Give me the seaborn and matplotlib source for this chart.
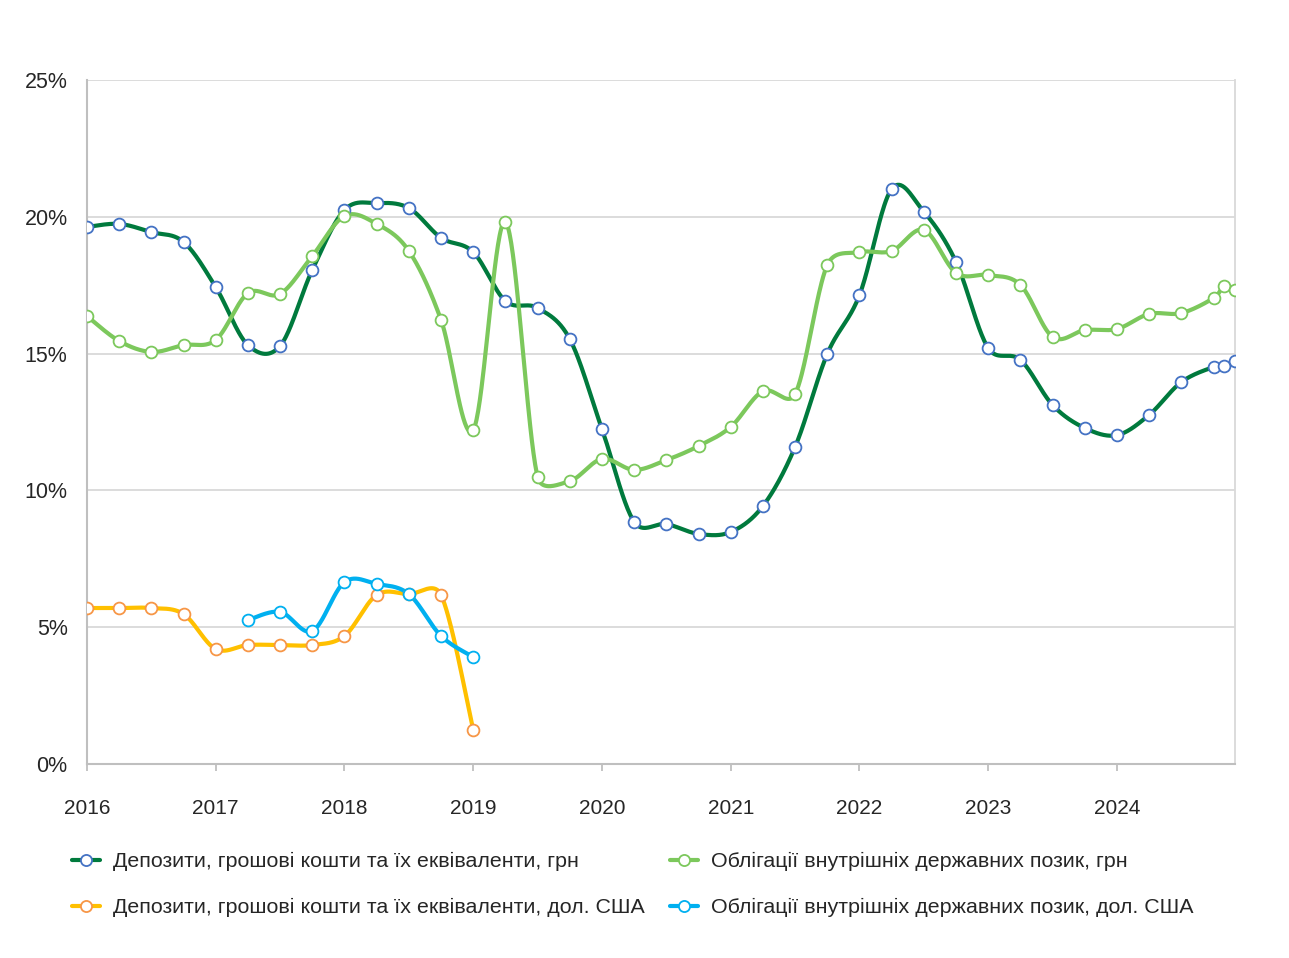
import numpy as np
import pandas as pd
import matplotlib
matplotlib.use("agg")
import matplotlib.pyplot as plt
import seaborn as sns

# quarter starts 2016Q1..2024Q4, then monthly Nov and Dec 2024
dates = list(pd.date_range("2016-01-01", "2024-10-01", freq="QS")) + [
    pd.Timestamp("2024-11-01"), pd.Timestamp("2024-12-01")]

dep_uah = [19.63, 19.74, 19.44, 19.08, 17.43, 15.31, 15.28, 18.06,
           20.25, 20.50, 20.32, 19.23, 18.71, 16.92, 16.67, 15.53,
           12.24, 8.85, 8.77, 8.41, 8.48, 9.43, 11.59, 14.99,
           17.14, 21.02, 20.18, 18.35, 15.20, 14.77, 13.12, 12.28,
           12.02, 12.76, 13.96, 14.51, 14.55, 14.73]

ovdp_uah = [16.37, 15.46, 15.06, 15.31, 15.50, 17.21, 17.18, 18.57,
            20.03, 19.74, 18.75, 16.23, 12.21, 19.81, 10.49, 10.34,
            11.15, 10.75, 11.11, 11.62, 12.32, 13.63, 13.52, 18.24,
            18.71, 18.75, 19.52, 17.95, 17.87, 17.51, 15.61, 15.86,
            15.90, 16.45, 16.48, 17.03, 17.47, 17.32]

# USD series: 2016Q1..2019Q1
dep_usd = [5.70, 5.70, 5.70, 5.48, 4.20, 4.35, 4.35, 4.35,
           4.68, 6.18, 6.21, 6.18, 1.24]
# starts 2017Q2
ovdp_usd = [5.26, 5.56, 4.86, 6.65, 6.58, 6.21, 4.68, 3.91]

labels = [
    "Депозити, грошові кошти та їх еквіваленти, грн",
    "Облігації внутрішніх державних позик, грн",
    "Депозити, грошові кошти та їх еквіваленти, дол. США",
    "Облігації внутрішніх державних позик, дол. США",
]
line_colors = ["#007A3D", "#7CC85C", "#FFC000", "#00B0F0"]
edge_colors = ["#4472C4", "#7CC85C", "#F79646", "#00B0F0"]

# rough pixel scale of the plot, used only for the smoothing distances
PX_X, PX_Y = 128.75, 27.36


def frac_year(ts):
    return ts.year + (ts.month - 1) / 12


def smooth(x, y, n=40):
    # excel-like bezier smoothing: tangent 1/6, capped at half the segment
    x = np.asarray(x, float)
    y = np.asarray(y, float)
    X, Y = x * PX_X, y * PX_Y
    dist = lambda a, b: np.hypot(X[a] - X[b], Y[a] - Y[b])
    px, py = [], []
    for i in range(len(x) - 1):
        i0 = max(i - 1, 0)
        i3 = min(i + 2, len(x) - 1)
        d12 = dist(i, i + 1)
        d02 = dist(i0, i + 1)
        d13 = dist(i, i3)
        f1 = 1 / 6 if d02 / 6 < d12 / 2 else d12 / (2 * d02)
        f2 = 1 / 6 if d13 / 6 < d12 / 2 else d12 / (2 * d13)
        c1x = x[i] + (x[i + 1] - x[i0]) * f1
        c1y = y[i] + (y[i + 1] - y[i0]) * f1
        c2x = x[i + 1] - (x[i3] - x[i]) * f2
        c2y = y[i + 1] - (y[i3] - y[i]) * f2
        t = np.linspace(0, 1, n)
        a, b, c, d = (1 - t) ** 3, 3 * (1 - t) ** 2 * t, 3 * (1 - t) * t ** 2, t ** 3
        px.extend(a * x[i] + b * c1x + c * c2x + d * x[i + 1])
        py.extend(a * y[i] + b * c1y + c * c2y + d * y[i + 1])
    return np.array(px), np.array(py)


xs = [frac_year(d) for d in dates]
series = [
    (xs, dep_uah),
    (xs, ovdp_uah),
    (xs[:len(dep_usd)], dep_usd),
    (xs[5:5 + len(ovdp_usd)], ovdp_usd),
]

sns.set_style("white")
plt.rcParams["font.family"] = ["Liberation Sans", "DejaVu Sans"]

fig = plt.figure(figsize=(12.89, 9.58), dpi=100)
ax = fig.add_axes([87 / 1289, 1 - 764 / 958, (1235 - 87) / 1289, (764 - 80) / 958])

for (x, y), lc, ec, lab in zip(series, line_colors, edge_colors, labels):
    sx, sy = smooth(x, y)
    sdf = pd.DataFrame({"x": sx, "y": sy})
    sns.lineplot(data=sdf, x="x", y="y", sort=False, color=lc, lw=3.0, ax=ax,
                 legend=False, zorder=3)
    ax.plot(x, y, ls="none", marker="o", ms=8.5, mfc="white", mec=ec,
            mew=1.3, zorder=4)
    ax.plot([], [], color=lc, lw=3.0, marker="o", ms=8.0, mfc="white",
            mec=ec, mew=1.3, label=lab)

ax.set_xlim(2016, 2024 + 11 / 12)
ax.set_ylim(0, 25)
ax.set_xticks(range(2016, 2025))
ax.set_xticklabels([str(y) for y in range(2016, 2025)])
ax.set_yticks(range(0, 26, 5))
ax.set_yticklabels([f"{v}%" for v in range(0, 26, 5)])
ax.set_xlabel("")
ax.set_ylabel("")
ax.grid(axis="y", color="#D9D9D9", lw=1.3)
ax.set_axisbelow(True)
ax.tick_params(axis="x", length=5, width=1.3, color="#BFBFBF", pad=20,
               labelsize=15, direction="out", bottom=True)
ax.tick_params(axis="y", length=0, pad=14, labelsize=15.5)
for s in ["left", "bottom"]:
    ax.spines[s].set_color("#BFBFBF")
    ax.spines[s].set_linewidth(1.5)
ax.spines["right"].set_color("#D9D9D9")
ax.spines["right"].set_linewidth(1.3)
ax.spines["top"].set_visible(False)

handles, labs = ax.get_legend_handles_labels()
order = [0, 2, 1, 3]
fig.legend([handles[i] for i in order], [labs[i] for i in order],
           loc="upper left", bbox_to_anchor=(72 / 1289, 1 - 852 / 958),
           ncol=2, frameon=False, fontsize=15.4, handlelength=1.3,
           handletextpad=0.6, columnspacing=1.2, labelspacing=1.26,
           borderaxespad=0, borderpad=0)

fig.savefig("out.png", dpi=100)
